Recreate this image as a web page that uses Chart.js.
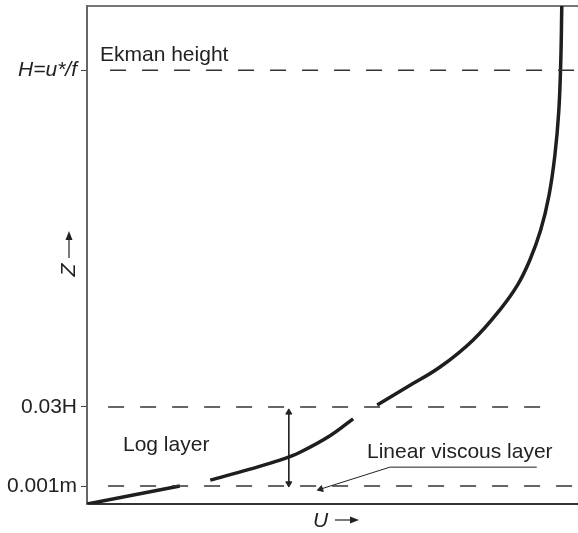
<!DOCTYPE html>
<html>
<head>
<meta charset="utf-8">
<script src="https://cdn.jsdelivr.net/npm/chart.js@4.4.1/dist/chart.umd.min.js"></script>
<style>
  html, body { margin: 0; padding: 0; background: #fff; overflow: hidden; }
  #wrap { width: 578px; height: 533px; }
  canvas { display: block; }
</style>
</head>
<body>
<div id="wrap"><canvas id="c" width="578" height="533"></canvas></div>
<script>
// Velocity profile (arbitrary units, U across, Z up)
const viscousU = [0, 18.9];
const viscousZ = [0, 3.6];
const logU = [25.1, 33.2, 39.3, 43.4, 49.5, 54.2];
const logZ = [4.8, 7.0, 8.8, 10.4, 13.7, 17.1];
const outerU = [59.1, 65.2, 71.9, 78.6, 84.1, 87.7, 90.2, 92.4, 94.1, 95.3, 96.1, 96.5, 96.7];
const outerZ = [19.9, 23.5, 27.5, 32.9, 39.0, 44.0, 49.0, 55.0, 62.0, 70.1, 79.1, 89.2, 100];

// y axis ticks
const tickValues = [3.6, 19.5, 87.1];
const tickLabels = ["0.001m", "0.03H", "H=u*/f"];

// reference lines: [level, from U, to U]
const refLevels = [87.1, 19.5, 3.6];
const refStart = [4.7, 4.3, 4.3];
const refEnd = [100, 92.3, 100];

const pts = (xs, ys) => xs.map((x, i) => ({ x: x, y: ys[i] }));

const datasets = [];
refLevels.forEach((lv, i) => {
  datasets.push({
    data: [{ x: refStart[i], y: lv }, { x: refEnd[i], y: lv }],
    borderColor: "#333", borderWidth: 1.5, borderDash: [16, 16],
    pointRadius: 0, showLine: true
  });
});
[[viscousU, viscousZ], [logU, logZ], [outerU, outerZ]].forEach(s => {
  datasets.push({
    data: pts(s[0], s[1]),
    borderColor: "#1e1e1e", borderWidth: 3.5, tension: 0.4,
    pointRadius: 0, showLine: true
  });
});
// double arrow spanning the log layer
datasets.push({
  data: [{ x: 41.1, y: 18.4 }, { x: 41.1, y: 4.1 }],
  borderColor: "#222", borderWidth: 1, backgroundColor: "#222",
  pointStyle: "triangle", pointRadius: 3.5, rotation: [0, 180],
  showLine: true
});
// pointer to the viscous layer
datasets.push({
  data: [{ x: 91.6, y: 7.4 }, { x: 61.7, y: 7.4 }, { x: 47.6, y: 3.0 }],
  borderColor: "#222", borderWidth: 1, backgroundColor: "#222",
  pointStyle: "triangle", pointRadius: [0, 0, 3.5], rotation: [0, 0, 252],
  showLine: true
});

const FONT = "'Liberation Sans', Arial, sans-serif";

const labels = {
  id: "labels",
  afterDraw(chart) {
    const c = chart.ctx;
    c.save();
    c.fillStyle = "#222";
    c.font = "21px " + FONT;
    c.textBaseline = "middle";
    c.textAlign = "left";
    c.fillText("Ekman height", 100, 55);
    c.fillText("Log layer", 123, 445);
    c.fillText("Linear viscous layer", 367, 452);

    // U arrow
    c.font = "italic 21px " + FONT;
    c.fillText("U", 313, 521);
    c.strokeStyle = "#222";
    c.lineWidth = 1.2;
    c.beginPath(); c.moveTo(335, 520); c.lineTo(352, 520); c.stroke();
    c.beginPath(); c.moveTo(359, 520); c.lineTo(350, 516.5); c.lineTo(350, 523.5); c.closePath(); c.fill();

    // Z arrow (rotated)
    c.translate(69, 270);
    c.rotate(-Math.PI / 2);
    c.textAlign = "center";
    c.fillText("Z", 0, 0);
    c.beginPath(); c.moveTo(12, 0); c.lineTo(32, 0); c.stroke();
    c.beginPath(); c.moveTo(39, 0); c.lineTo(30, -3.5); c.lineTo(30, 3.5); c.closePath(); c.fill();
    c.restore();
  }
};

const noPad = s => { s.paddingTop = 0; s.paddingBottom = 0; s.paddingLeft = 0; s.paddingRight = 0; };

new Chart(document.getElementById("c"), {
  type: "scatter",
  data: { datasets: datasets },
  plugins: [labels],
  options: {
    responsive: false,
    animation: false,
    layout: { padding: 0, autoPadding: false },
    plugins: { legend: { display: false }, tooltip: { enabled: false } },
    scales: {
      x: {
        type: "linear", min: 0, max: 100,
        grid: { display: false },
        border: { display: true, color: "#333", width: 2 },
        ticks: { display: false },
        afterFit: s => { s.height = 29; noPad(s); }
      },
      xTop: {
        type: "linear", position: "top", min: 0, max: 100,
        grid: { display: false },
        border: { display: true, color: "#777", width: 2 },
        ticks: { display: false },
        afterFit: s => { s.height = 6; noPad(s); }
      },
      y: {
        type: "linear", min: 0, max: 100,
        afterBuildTicks: s => { s.ticks = tickValues.map(v => ({ value: v })); },
        grid: { drawOnChartArea: false, drawTicks: true, tickLength: 6, color: "#444" },
        border: { display: true, color: "#666", width: 2 },
        ticks: {
          padding: 4, color: "#222",
          callback: v => tickLabels[tickValues.indexOf(v)],
          font: ctx => ({
            family: FONT, size: 21,
            style: ctx.tick && ctx.tick.value === 87.1 ? "italic" : "normal"
          })
        },
        afterFit: s => { s.width = 87; noPad(s); }
      }
    }
  }
});
</script>
</body>
</html>
